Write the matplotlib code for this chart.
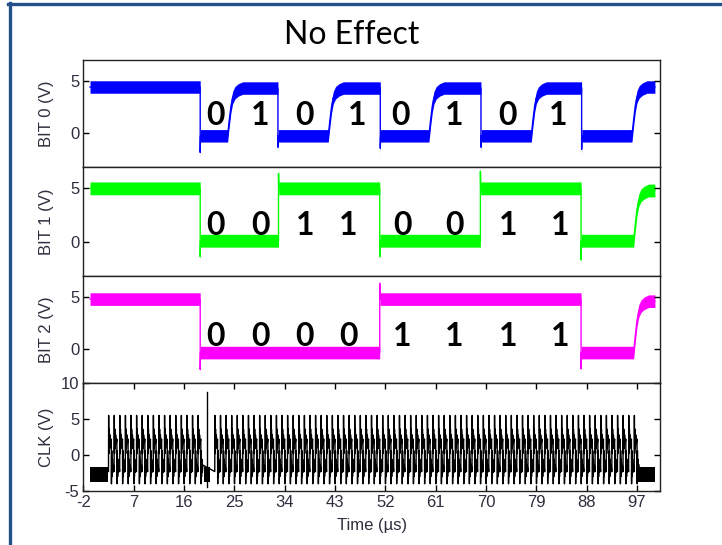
import numpy as np
import matplotlib.pyplot as plt
from matplotlib.lines import Line2D

plt.rcParams['axes.unicode_minus'] = False

# --- values ---
x_ticks = [-2, 7, 16, 25, 34, 43, 52, 61, 70, 79, 88, 97]
t_first, t_last = -0.8, 100.2

# edge times (us), levels between edges (V), edge kind, spike value at edge
bit0_edges = [18.9, 23.8, 32.8, 41.8, 51.1, 59.8, 69.1, 78.1, 87.1, 96.1]
bit0_kinds = ['fall', 'ramp', 'fall', 'ramp', 'fall', 'ramp', 'fall', 'ramp', 'fall', 'ramp']
bit0_levels = [4.4, -0.3, 4.3, -0.3, 4.3, -0.3, 4.3, -0.3, 4.3, -0.3, 4.4]
bit0_spikes = [-1.9, None, -1.4, None, -1.5, None, -1.4, None, -1.6, None]

bit1_edges = [18.9, 32.9, 51.0, 69.0, 87.0, 96.4]
bit1_kinds = ['fall', 'jump', 'fall', 'jump', 'fall', 'ramp']
bit1_levels = [5.0, 0.1, 5.0, 0.1, 5.0, 0.1, 4.8]
bit1_spikes = [-1.4, 6.4, -1.4, 6.6, -1.7, None]

bit2_edges = [18.9, 51.0, 87.0, 96.4]
bit2_kinds = ['fall', 'jump', 'fall', 'ramp']
bit2_levels = [4.8, -0.3, 4.8, -0.3, 4.6]
bit2_spikes = [-1.9, 6.3, -1.85, None]

# shape of the slow RC rise (time after edge, fraction of the step)
ramp_dt = [0.0, 0.3, 0.6, 0.9, 1.3, 1.9, 2.7]
ramp_frac = [0.0, 0.33, 0.62, 0.80, 0.90, 0.96, 1.0]

# bits written under each trace
bit0_text_t = [21.7, 29.7, 37.6, 47.0, 54.7, 64.3, 73.9, 82.9]
bit0_text = ['0', '1', '0', '1', '0', '1', '0', '1']
bit12_text_t = [21.7, 29.7, 37.6, 45.4, 55.0, 64.3, 73.9, 83.2]
bit1_text = ['0', '0', '1', '1', '0', '0', '1', '1']
bit2_text = ['0', '0', '0', '0', '1', '1', '1', '1']

# clock
clk_on, clk_off = 2.5, 97.0
clk_period = 1.0
clk_idle = -2.7
clk_gap = (19.6, 20.6)
clk_glitch_t, clk_glitch_top, clk_glitch_bot = 20.1, 8.8, -4.5
# one clock cycle (fraction of period, volts)
cyc_frac = [0.0, 0.03, 0.08, 0.14, 0.20, 0.28, 0.38, 0.50, 0.53, 0.58, 0.64, 0.70, 0.78, 0.88]
cyc_v = [-2.3, 5.5, 0.2, 3.6, 0.9, 2.8, 1.6, 2.2, -4.0, 0.6, -3.0, -0.6, -2.4, -1.4]

band = 0.6
colors = ['#0000ff', '#00ff00', '#ff00ff']


def trace(edges, kinds, levels, spikes):
    t = [t_first]
    v = [levels[0]]
    for i, e in enumerate(edges):
        lo, hi = levels[i], levels[i + 1]
        t.append(e); v.append(lo)
        if kinds[i] == 'ramp':
            for dt, f in zip(ramp_dt[1:], ramp_frac[1:]):
                t.append(e + dt); v.append(lo + f * (hi - lo))
        else:
            t += [e, e + 0.05]
            v += [spikes[i], hi]
    t.append(t_last); v.append(levels[-1])
    return np.array(t), np.array(v)


fig = plt.figure(figsize=(7.22, 5.45), dpi=100)
fig.patches.append(Line2D([0.0133, 0.0133], [0, 0.9945], transform=fig.transFigure,
                          color='#23508a', lw=2.4))
fig.patches.append(Line2D([0.0113, 1.0], [0.9935, 0.9935], transform=fig.transFigure,
                          color='#23508a', lw=2.4))

left, width = 0.1154, 0.7994
tops = [0.8899, 0.6936, 0.4936, 0.2972]
bots = [0.6936, 0.4936, 0.2972, 0.0991]
axes = [fig.add_axes([left, b, width, t - b]) for t, b in zip(tops, bots)]

tick_font = ['Liberation Sans Narrow', 'Liberation Sans']
txt_col = '#2e2e3e'

data = [(bit0_edges, bit0_kinds, bit0_levels, bit0_spikes),
        (bit1_edges, bit1_kinds, bit1_levels, bit1_spikes),
        (bit2_edges, bit2_kinds, bit2_levels, bit2_spikes)]
texts = [(bit0_text_t, bit0_text, 1.7), (bit12_text_t, bit1_text, 1.55),
         (bit12_text_t, bit2_text, 1.25)]
ylims = [(-3.3, 7.0), (-3.2, 7.0), (-3.2, 7.0)]

for k in range(3):
    ax = axes[k]
    t, v = trace(*data[k])
    ax.fill_between(t, v - band, v + band, color=colors[k], lw=0)
    ax.plot(t, v, color=colors[k], lw=1.0)
    for tt, s in zip(texts[k][0], texts[k][1]):
        ax.text(tt, texts[k][2], s, ha='center', va='center', fontsize=23,
                fontweight='bold', family='Lato', color='black')
    ax.set_ylim(*ylims[k])
    ax.set_yticks([0, 5])
    ax.set_xticks([])
    ax.set_ylabel(f'BIT {k} (V)')

# clock trace
ax = axes[3]
starts = np.arange(clk_on, clk_off, clk_period)
starts = starts[(starts + clk_period <= clk_gap[0] + 0.5) | (starts >= clk_gap[1])]
ct = (starts[:, None] + np.array(cyc_frac)[None, :] * clk_period).ravel()
cv = np.tile(cyc_v, len(starts))
for a, b in [(t_first, clk_on), (clk_gap[0], clk_gap[1]), (clk_off, t_last)]:
    ax.fill_between([a, b], clk_idle - 1.0, clk_idle + 1.0, color='black', lw=0)
ax.plot(ct, cv, color='black', lw=1.0)
ax.plot([clk_glitch_t, clk_glitch_t], [clk_glitch_bot, clk_glitch_top], color='black', lw=1.0)
ax.set_ylim(-5, 10)
ax.set_yticks([-5, 0, 5, 10])
ax.set_xticks(x_ticks)
ax.set_ylabel('CLK (V)')
ax.set_xlabel('Time (\u00b5s)', family=tick_font, fontsize=12, color=txt_col, labelpad=6)

for ax in axes:
    ax.set_xlim(-2, 101.2)
    ax.tick_params(direction='in', length=4, width=1, left=True, right=True,
                   top=(ax is axes[3]), bottom=(ax is axes[3]),
                   labelsize=12, labelcolor=txt_col, pad=3)
    for lab in ax.get_xticklabels() + ax.get_yticklabels():
        lab.set_family(tick_font)
    ax.yaxis.label.set_family(tick_font)
    ax.yaxis.label.set_fontsize(12)
    ax.yaxis.label.set_color(txt_col)
    ax.yaxis.set_label_coords(-0.05, 0.5)
    for sp in ax.spines.values():
        sp.set_color('#222222')
        sp.set_linewidth(1.0)

fig.text(0.4875, 0.936, 'No Effect', ha='center', va='center', fontsize=23, family='Lato')

fig.savefig('out.png', dpi=100)
